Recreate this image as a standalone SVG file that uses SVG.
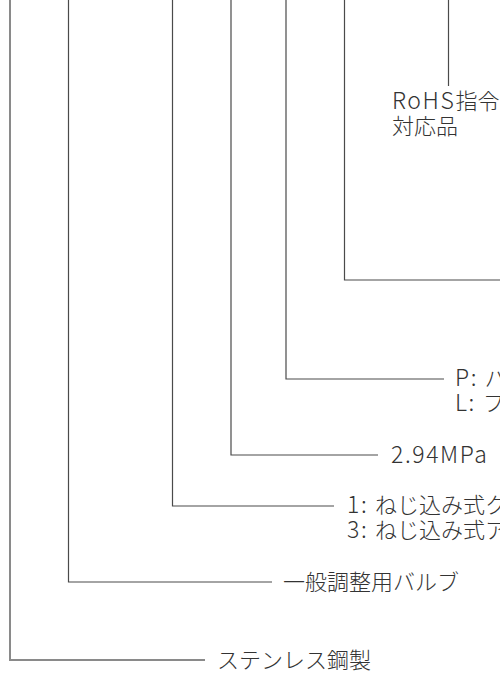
<svg xmlns="http://www.w3.org/2000/svg" width="500" height="673" viewBox="0 0 500 673">
<style>
.ln{fill:none;stroke:#4a4a4a;stroke-width:1.2}
.ln0{fill:none;stroke:#8a8a8a;stroke-width:2}
.t{font-family:"Noto Sans CJK JP","Noto Sans",sans-serif;font-size:22px;font-weight:300;fill:#333}
.lat{font-size:23px;letter-spacing:1.6px}
</style>
<rect width="500" height="673" fill="#fff"/>
<g id="connectors">
<polyline class="ln0" points="10,0 10,660 205,660"/>
<polyline class="ln" points="68.5,0 68.5,582 272,582"/>
<polyline class="ln" points="172.5,0 172.5,506 334,506"/>
<polyline class="ln" points="231,0 231,455 378,455"/>
<polyline class="ln" points="286,0 286,379 444,379"/>
<polyline class="ln" points="344.5,0 344.5,280 500,280"/>
<polyline class="ln" points="448.5,0 448.5,86"/>
</g>
<g id="n-rohs"><text class="t" x="392" y="109"><tspan class="lat">RoHS</tspan>指令</text><text class="t" x="392" y="134">対応品</text></g>
<g id="n-mount"><text class="t" x="455" y="386"><tspan class="lat" letter-spacing="3">P: </tspan>パ</text><text class="t" x="455" y="411"><tspan class="lat" letter-spacing="3">L: </tspan>フ</text></g>
<g id="n-pressure"><text class="t" x="391" y="463"><tspan class="lat">2.94MPa</tspan></text></g>
<g id="n-conn"><text class="t" x="347" y="513"><tspan class="lat" letter-spacing="3">1: </tspan>ねじ込み式ク</text><text class="t" x="347" y="538"><tspan class="lat" letter-spacing="3">3: </tspan>ねじ込み式ア</text></g>
<g id="n-valve"><text class="t" x="283" y="590">一般調整用バルブ</text></g>
<g id="n-material"><text class="t" x="217" y="668">ステンレス鋼製</text></g>
</svg>
